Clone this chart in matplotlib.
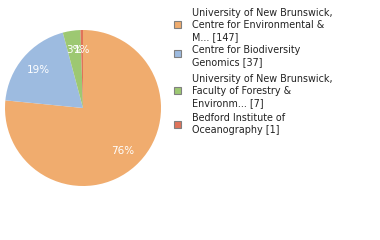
import matplotlib
matplotlib.use("Agg")
import matplotlib.pyplot as plt
from matplotlib.patches import Rectangle

labels = ["University of New Brunswick,\nCentre for Environmental &\nM... [147]",
          "Centre for Biodiversity\nGenomics [37]",
          "University of New Brunswick,\nFaculty of Forestry &\nEnvironm... [7]",
          "Bedford Institute of\nOceanography [1]"]
values = [147, 37, 7, 1]
colors = ["#F0AC6E", "#9DBBE0", "#9DC872", "#E0735A"]

fig = plt.figure(figsize=(3.8, 2.4), dpi=100)
ax = fig.add_axes([5/380, (240-108-78)/240, 156/380, 156/240])
wedges, texts, autotexts = ax.pie(values, colors=colors, startangle=90, counterclock=False,
                                  autopct=lambda p: f"{max(int(p), 1)}%", pctdistance=0.75,
                                  wedgeprops=dict(linewidth=0),
                                  textprops=dict(color="white", fontsize=7.5))
ax.set_xlim(-1, 1); ax.set_ylim(-1, 1)
ax.set_aspect("equal")

# manual legend
patch_y = [24, 53, 90, 124]
text_top = [13, 50, 79, 118]
for c, lab, py, ty in zip(colors, labels, patch_y, text_top):
    fig.patches.append(Rectangle((174/380, 1-(py+3.5)/240), 7/380, 7/240,
                                 transform=fig.transFigure, facecolor=c,
                                 edgecolor="#808080", linewidth=0.8))
    fig.text(192/380, 1-(ty-5)/240, lab, fontsize=6.9, va="top", ha="left",
             color="#222222", linespacing=1.25)

fig.savefig("out.png", dpi=100)
